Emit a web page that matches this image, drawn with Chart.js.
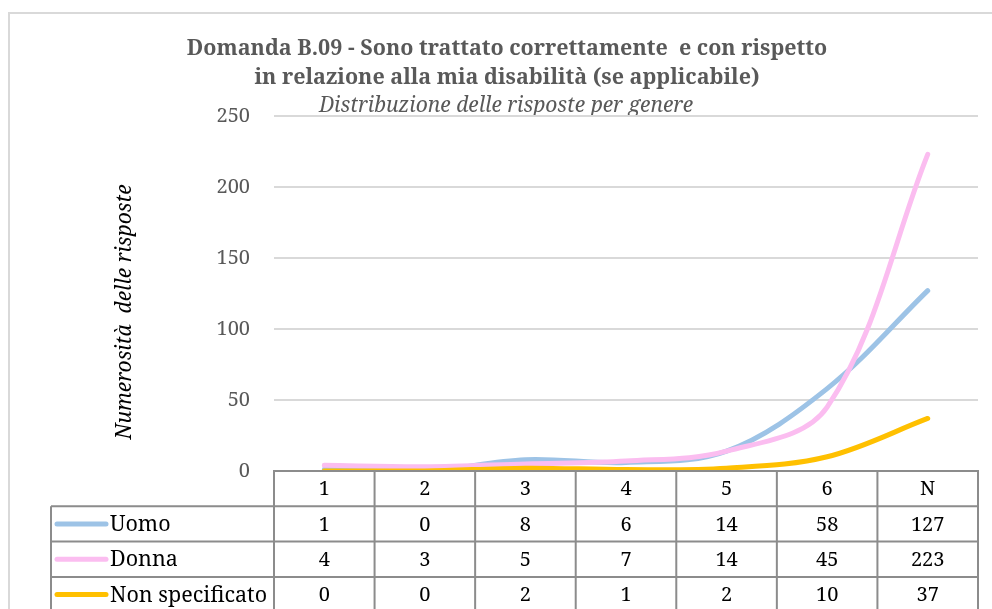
<!DOCTYPE html>
<html>
<head>
<meta charset="utf-8">
<script src="https://cdn.jsdelivr.net/npm/chart.js@4/dist/chart.umd.min.js"></script>
<style>
  html, body { margin: 0; padding: 0; background: #ffffff; }
  #wrap { width: 992px; height: 609px; position: relative; }
</style>
</head>
<body>
<div id="wrap"><canvas id="chart" width="992" height="609"></canvas></div>
<script>
// Answer categories (columns of the data table)
const categories = ['1', '2', '3', '4', '5', '6', 'N'];

// Number of answers per gender
const uomo = [1, 0, 8, 6, 14, 58, 127];
const donna = [4, 3, 5, 7, 14, 45, 223];
const nonSpecificato = [0, 0, 2, 1, 2, 10, 37];

// Y axis ticks
const yTicks = [0, 50, 100, 150, 200, 250];

const seriesNames = ['Uomo', 'Donna', 'Non specificato'];
const seriesColors = ['#9dc3e6', '#fbbdf0', '#ffc000'];
const seriesData = [uomo, donna, nonSpecificato];

const titleLines = [
  'Domanda B.09 - Sono trattato correttamente  e con rispetto',
  'in relazione alla mia disabilità (se applicabile)'
];
const subtitle = 'Distribuzione delle risposte per genere';
const yTitle = 'Numerosità  delle risposte';

const SERIF = '"Noto Serif", "DejaVu Serif", serif';

// Frame, titles, axis title and the data table below the plot
const decorations = {
  id: 'decorations',
  beforeDraw(chart) {
    const ctx = chart.ctx;
    ctx.save();
    ctx.strokeStyle = '#d9d9d9';
    ctx.lineWidth = 2;
    ctx.beginPath();
    ctx.moveTo(9, 609);
    ctx.lineTo(9, 13);
    ctx.lineTo(992, 13);
    ctx.stroke();

    ctx.fillStyle = '#595959';
    ctx.textAlign = 'center';
    ctx.textBaseline = 'middle';
    ctx.font = 'bold 21.5px ' + SERIF;
    ctx.fillText(titleLines[0], 507, 49);
    ctx.fillText(titleLines[1], 507, 78);
    ctx.font = 'italic 21px ' + SERIF;
    ctx.fillText(subtitle, 506, 106);

    ctx.save();
    ctx.translate(125, 312);
    ctx.rotate(-Math.PI / 2);
    ctx.fillStyle = '#000000';
    ctx.font = 'italic 21px ' + SERIF;
    ctx.fillText(yTitle, 0, 0);
    ctx.restore();
    ctx.restore();
  },
  afterDraw(chart) {
    const ctx = chart.ctx;
    const x = chart.scales.x;
    const area = chart.chartArea;
    const n = categories.length;
    const half = (x.getPixelForValue(1) - x.getPixelForValue(0)) / 2;
    const left = x.getPixelForValue(0) - half;
    const right = x.getPixelForValue(n - 1) + half;
    const legendLeft = 51;
    const top = area.bottom;
    const rowH = 35.3;
    const rows = seriesNames.length;
    const bottom = top + rowH * (rows + 1);

    ctx.save();
    ctx.strokeStyle = '#8c8c8c';
    ctx.lineWidth = 2;
    ctx.beginPath();
    // header row
    ctx.moveTo(left, bottom + 2);
    ctx.lineTo(left, top);
    ctx.lineTo(right, top);
    ctx.lineTo(right, bottom + 2);
    for (let i = 1; i < n; i++) {
      const cx = x.getPixelForValue(i) - half;
      ctx.moveTo(cx, top);
      ctx.lineTo(cx, bottom + 2);
    }
    for (let r = 1; r <= rows; r++) {
      const y = top + rowH * r;
      ctx.moveTo(legendLeft, y);
      ctx.lineTo(right, y);
    }
    ctx.moveTo(legendLeft, top + rowH);
    ctx.lineTo(legendLeft, bottom + 2);
    ctx.stroke();

    ctx.fillStyle = '#000000';
    ctx.font = '20px ' + SERIF;
    ctx.textBaseline = 'middle';
    ctx.textAlign = 'center';
    categories.forEach((c, i) => {
      ctx.fillText(c, x.getPixelForValue(i), top + rowH / 2 + 1);
    });
    seriesData.forEach((vals, r) => {
      const cy = top + rowH * (r + 1) + rowH / 2 + 1;
      vals.forEach((v, i) => {
        ctx.fillText(String(v), x.getPixelForValue(i), cy);
      });
    });
    ctx.font = '21.5px ' + SERIF;
    seriesNames.forEach((name, r) => {
      const cy = top + rowH * (r + 1) + rowH / 2;
      ctx.strokeStyle = seriesColors[r];
      ctx.lineWidth = 5;
      ctx.lineCap = 'round';
      ctx.beginPath();
      ctx.moveTo(57, cy);
      ctx.lineTo(106, cy);
      ctx.stroke();
      ctx.textAlign = 'left';
      ctx.fillText(name, 110, cy + 1);
    });
    ctx.restore();
  }
};

new Chart(document.getElementById('chart'), {
  type: 'line',
  data: {
    labels: categories,
    datasets: seriesNames.map((name, i) => ({
      label: name,
      data: seriesData[i],
      borderColor: seriesColors[i],
      backgroundColor: seriesColors[i],
      borderWidth: 5,
      borderCapStyle: 'round',
      pointRadius: 0,
      tension: 0.35,
      order: 3 - i
    }))
  },
  options: {
    responsive: false,
    animation: false,
    layout: { padding: { top: 116, left: 0, right: 14, bottom: 138 } },
    plugins: {
      legend: { display: false },
      title: { display: false },
      tooltip: { enabled: false }
    },
    scales: {
      x: {
        type: 'category',
        offset: true,
        display: false
      },
      y: {
        min: 0,
        max: 250,
        afterFit(scale) { scale.width = 274; },
        afterBuildTicks(scale) { scale.ticks = yTicks.map(v => ({ value: v })); },
        border: { display: false },
        grid: { color: '#d9d9d9', lineWidth: 2, drawTicks: false },
        ticks: {
          padding: 24,
          color: '#595959',
          font: { family: SERIF, size: 20 }
        }
      }
    }
  },
  plugins: [decorations]
});
</script>
</body>
</html>
